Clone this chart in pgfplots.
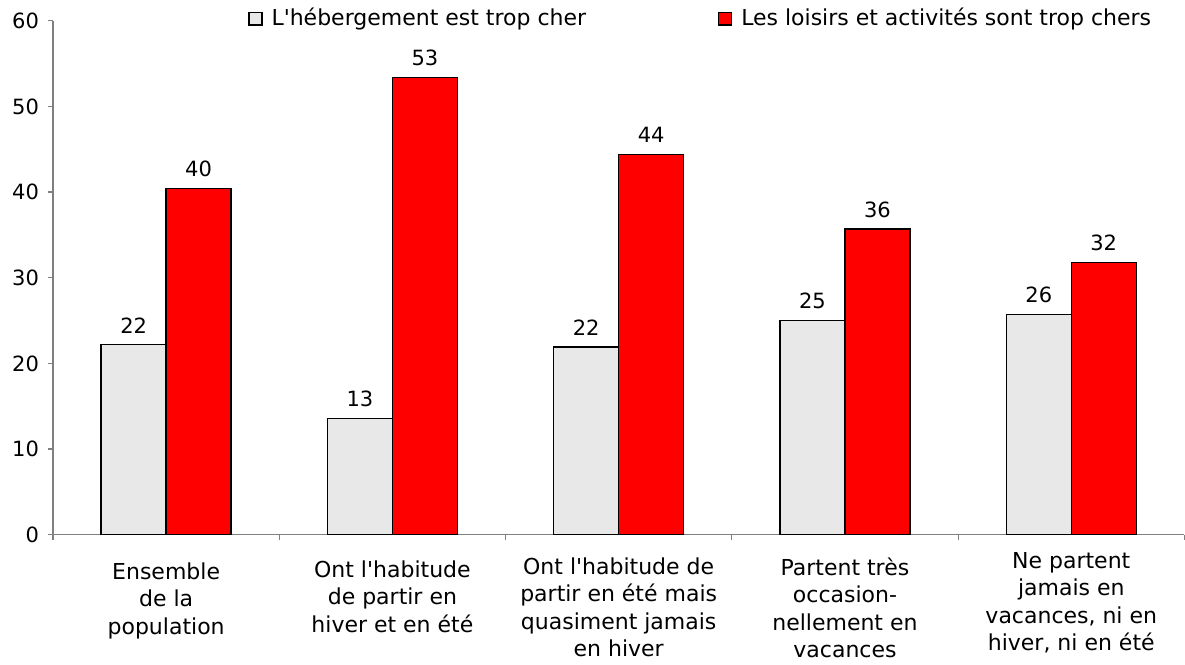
\documentclass[border=0pt]{standalone}
\usepackage{fontspec}
\setmainfont{DejaVu Sans}
\usepackage{pgfplots}
\pgfplotsset{compat=1.18}
\definecolor{barGray}{HTML}{E8E8E8}
\definecolor{barRed}{HTML}{FF0000}
\definecolor{axGray}{HTML}{808080}
\newcommand{\q}{\textquotesingle}
\newcommand{\up}[1]{\rule{0pt}{#1}}

\begin{document}
\begin{tikzpicture}
\pgfplotsset{sq legend/.style={legend image code/.code={\draw[##1] (0pt,-3.2pt) rectangle (6.4pt,3.2pt);}}}
\begin{axis}[
  name=ax,
  scale only axis,
  width=566pt, height=257.15pt,
  ybar=0pt, bar width=32.5pt,
  xmin=-0.5, xmax=4.5,
  ymin=0, ymax=60,
  ytick={0,10,...,60},
  xtick={-0.5,0.5,1.5,2.5,3.5,4.5},
  x tick label as interval,
  xticklabels={{\up{16.35pt}Ensemble\\de la\\population},
    {\up{15.35pt}Ont l\q habitude\\de partir en\\hiver et en été},
    {\up{13.85pt}Ont l\q habitude de\\partir en été mais\\quasiment jamais\\en hiver},
    {\up{14.35pt}Partent très\\occasion-\\nellement en\\vacances},
    {\up{10.85pt}Ne partent\\jamais en\\vacances, ni en\\hiver, ni en été}},
  axis x line*=bottom, axis y line*=left,
  axis line style={axGray, line width=0.6pt},
  tick style={axGray, line width=0.6pt},
  tick align=outside,
  major tick length=2.5pt,
  /pgf/number format/assume math mode=true,
  yticklabel style={font=\fontsize{10.5}{12}\selectfont, xshift=-1pt},
  xticklabel style={font=\fontsize{11}{13.75}\selectfont, align=center, anchor=north, yshift=0pt},
  point meta=explicit symbolic,
  nodes near coords,
  nodes near coords style={font=\fontsize{10.5}{12}\selectfont, anchor=south, yshift=2pt},
  legend style={at={(axis description cs:0.1723,1.004)}, anchor=west, draw=none, fill=none,
    inner sep=0pt, font=\fontsize{11}{13}\selectfont,
    /tikz/every odd column/.append style={column sep=2.5pt},
    /tikz/every even column/.append style={column sep=64pt}},
  legend columns=2,
]
\addplot[fill=barGray, draw=black, line width=0.7pt, sq legend] coordinates {
  (0,22.2) [22] (1,13.6) [13] (2,21.9) [22] (3,25.0) [25] (4,25.7) [26]
};
\addplot[fill=barRed, draw=black, line width=0.7pt, sq legend] coordinates {
  (0,40.4) [40] (1,53.4) [53] (2,44.4) [44] (3,35.7) [36] (4,31.8) [32]
};
\legend{L\q hébergement est trop cher, Les loisirs et activités sont trop chers}
\end{axis}
\path (ax.south west) ++(-26.5pt,-64.5pt) rectangle ++(592.5pt,332pt);
\end{tikzpicture}
\end{document}
